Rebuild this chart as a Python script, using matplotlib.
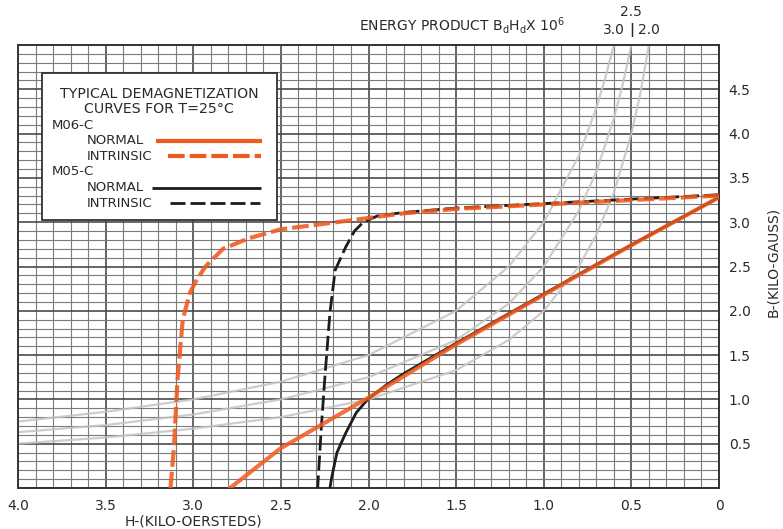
import numpy as np
import matplotlib
matplotlib.use("Agg")
import matplotlib.pyplot as plt
from matplotlib.lines import Line2D
from matplotlib.transforms import blended_transform_factory
from matplotlib.offsetbox import TextArea, DrawingArea, HPacker, VPacker, AnchoredOffsetbox

plt.rcParams['font.family'] = ['DejaVu Sans']

# ---------------- data (H in kilo-oersteds, B in kilo-gauss) ----------------
# M06-C normal
m06_normal_H = [0.0, 0.5, 1.0, 1.5, 2.0, 2.5, 2.79]
m06_normal_B = [3.28, 2.74, 2.18, 1.62, 1.02, 0.45, 0.0]
# M06-C intrinsic
m06_intr_H = [0.0, 0.5, 1.0, 1.5, 1.8, 2.03, 2.3, 2.5, 2.68, 2.83, 2.93, 2.98,
              3.02, 3.06, 3.09, 3.11, 3.13]
m06_intr_B = [3.30, 3.25, 3.20, 3.15, 3.10, 3.04, 2.97, 2.92, 2.82, 2.70, 2.50,
              2.35, 2.20, 1.90, 1.22, 0.46, 0.0]
# M05-C normal
m05_normal_H = [0.0, 0.5, 1.0, 1.5, 1.8, 1.9, 2.0, 2.07, 2.13, 2.18, 2.21, 2.22]
m05_normal_B = [3.28, 2.745, 2.19, 1.635, 1.29, 1.16, 1.01, 0.85, 0.62, 0.40, 0.12, 0.0]
# M05-C intrinsic
m05_intr_H = [0.0, 0.5, 1.0, 1.5, 1.8, 1.95, 2.03, 2.08, 2.13, 2.19, 2.22, 2.25,
              2.27, 2.29]
m05_intr_B = [3.31, 3.26, 3.21, 3.16, 3.11, 3.07, 3.00, 2.90, 2.72, 2.46, 1.98,
              1.22, 0.66, 0.0]

# Energy product curves B*H (x 10^6)
energy_levels = ["2.0", "2.5", "3.0"]
ep20_H = [0.4, 0.45, 0.5, 0.6, 0.7, 0.8, 1.0, 1.2, 1.5, 2.0, 2.5, 3.0, 3.5, 4.0]
ep20_B = [5.0, 4.44, 4.0, 3.33, 2.86, 2.5, 2.0, 1.67, 1.33, 1.0, 0.8, 0.67, 0.57, 0.5]
ep25_H = [0.5, 0.55, 0.6, 0.7, 0.8, 1.0, 1.2, 1.5, 2.0, 2.5, 3.0, 3.5, 4.0]
ep25_B = [5.0, 4.55, 4.17, 3.57, 3.13, 2.5, 2.08, 1.67, 1.25, 1.0, 0.83, 0.71, 0.63]
ep30_H = [0.6, 0.65, 0.7, 0.8, 1.0, 1.2, 1.5, 2.0, 2.5, 3.0, 3.5, 4.0]
ep30_B = [5.0, 4.62, 4.29, 3.75, 3.0, 2.5, 2.0, 1.5, 1.2, 1.0, 0.86, 0.75]

x_ticks = [4.0, 3.5, 3.0, 2.5, 2.0, 1.5, 1.0, 0.5, 0.0]
x_ticklabels = ["4.0", "3.5", "3.0", "2.5", "2.0", "1.5", "1.0", "0.5", "0"]
y_ticks = [0.0, 0.5, 1.0, 1.5, 2.0, 2.5, 3.0, 3.5, 4.0, 4.5, 5.0]
y_ticklabels = ["", "0.5", "1.0", "1.5", "2.0", "2.5", "3.0", "3.5", "4.0", "4.5", ""]

# ---------------- figure ----------------
W, Hh = 783, 529
fig = plt.figure(figsize=(W / 100, Hh / 100), dpi=100)
ax = fig.add_axes([18 / W, 1 - 488 / Hh, 701 / W, 443 / Hh])
ax.set_xlim(4.0, 0.0)
ax.set_ylim(0.0, 5.0)

TXT = '#2a2a2a'
ax.set_xticks(x_ticks)
ax.set_xticklabels(x_ticklabels, fontsize=10, color=TXT)
ax.set_xticks(np.arange(0, 4.0001, 0.1), minor=True)
ax.yaxis.tick_right()
ax.set_yticks(y_ticks)
ax.set_yticklabels(y_ticklabels, fontsize=10, color=TXT)
ax.set_yticks(np.arange(0, 5.0001, 0.1), minor=True)
ax.tick_params(which='both', length=0)
ax.tick_params(axis='x', pad=8)
ax.tick_params(axis='y', pad=7)

ax.grid(which='minor', color='#7a7a7a', lw=0.8)
ax.grid(which='major', color='#4a4a4a', lw=1.2)
ax.set_axisbelow(True)
for s in ax.spines.values():
    s.set_color('#333333')
    s.set_linewidth(1.4)

# energy product curves
for hx, by in [(ep20_H, ep20_B), (ep25_H, ep25_B), (ep30_H, ep30_B)]:
    ax.plot(hx, by, color='#c4c4c4', lw=1.6, alpha=0.85, zorder=2)

ORANGE = '#f05a1e'
BLACK = '#1c1c1c'
ax.plot(m05_normal_H, m05_normal_B, color=BLACK, lw=2.0, zorder=3)
ax.plot(m05_intr_H, m05_intr_B, color=BLACK, lw=2.0, ls=(0, (5.4, 1.8)), zorder=3)
ax.plot(m06_normal_H, m06_normal_B, color=ORANGE, lw=3.0, alpha=0.85, zorder=4)
ax.plot(m06_intr_H, m06_intr_B, color=ORANGE, lw=3.0, ls=(0, (4.0, 1.2)),
        alpha=0.88, zorder=4)

# labels
ax.set_xlabel("H-(KILO-OERSTEDS)", fontsize=10, color=TXT)
ax.xaxis.set_label_coords(0.25, -0.060)
ax.yaxis.set_label_position('right')
ax.set_ylabel("B-(KILO-GAUSS)", fontsize=10, color=TXT, rotation=90)
ax.yaxis.set_label_coords(1.067, 0.51)

ax.text(0.633, 1.045, r"ENERGY PRODUCT B$_\mathregular{d}$H$_\mathregular{d}$X 10$^\mathregular{6}$",
        transform=ax.transAxes, ha='center', va='center', fontsize=10, color=TXT)
tr = blended_transform_factory(ax.transData, ax.transAxes)
ymax = ax.get_ylim()[1]
for lab in energy_levels:
    xpos = float(lab) / ymax
    if lab == "2.5":
        ax.text(xpos, 1.075, lab, transform=tr, ha='center', va='center', fontsize=10, color=TXT)
        ax.text(xpos, 1.033, "|", transform=tr, ha='center', va='center', fontsize=10,
                color=TXT, fontweight='bold')
    else:
        ax.text(xpos, 1.033, lab, transform=tr, ha='center', va='center', fontsize=10, color=TXT)

# ---------------- legend box (built with offsetbox) ----------------
PX = 0.72  # points per pixel at 100 dpi
FS = 9.5
tprops = dict(fontsize=FS, color=TXT)


def key(gap_px, len_px, **kw):
    da = DrawingArea((gap_px + len_px) * PX, 8, 0, 0)
    da.add_artist(Line2D([gap_px * PX, (gap_px + len_px) * PX], [4, 4],
                         solid_capstyle='butt', dash_capstyle='butt', **kw))
    return da


def row(label, keybox):
    return HPacker(children=[DrawingArea(35 * PX, 1, 0, 0), TextArea(label, textprops=tprops), keybox],
                   align='center', pad=0, sep=0)


rows = [
    TextArea("M06-C", textprops=tprops),
    row("NORMAL", key(12, 106, color=ORANGE, lw=3.0)),
    row("INTRINSIC", key(16, 93, color=ORANGE, lw=3.0, ls=(0, (4.0, 1.2)))),
    TextArea("M05-C", textprops=tprops),
    row("NORMAL", key(8, 109, color=BLACK, lw=2.0)),
    row("INTRINSIC", key(18, 90, color=BLACK, lw=2.0, ls=(0, (5.4, 1.8)))),
]
rows_box = VPacker(children=rows, align='left', pad=0, sep=1.9)
rows_wide = HPacker(children=[rows_box, DrawingArea(5 * PX, 1, 0, 0)], align='top', pad=0, sep=0)
title_box = TextArea("TYPICAL DEMAGNETIZATION\nCURVES FOR T=25°C",
                     textprops=dict(fontsize=10.2, color=TXT, multialignment='center', linespacing=1.05))
inner = VPacker(children=[DrawingArea(1, 1.2, 0, 0), title_box, rows_wide],
                align='center', pad=0, sep=2)
ab = AnchoredOffsetbox(loc='upper left', child=inner, pad=0.75, borderpad=0, frameon=True,
                       bbox_to_anchor=(0.034, 0.937), bbox_transform=ax.transAxes,
                       prop=dict(size=FS))
ab.patch.set_edgecolor('#333333')
ab.patch.set_linewidth(1.3)
ab.patch.set_facecolor('white')
ab.set_zorder(10)
ax.add_artist(ab)

fig.savefig("out.png", dpi=100, facecolor='white')
